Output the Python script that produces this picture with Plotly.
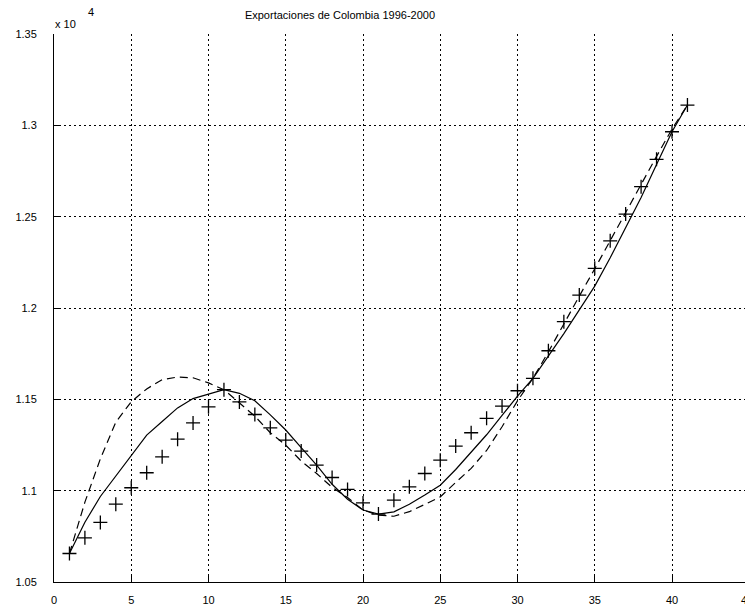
import plotly.graph_objects as go

# Data (values in units, axis shown in x 10^4)
months = list(range(1, 42))
exports = [10656, 10742, 10826, 10926, 11016, 11098, 11185, 11282, 11371, 11459,
           11553, 11486, 11417, 11344, 11277, 11217, 11140, 11072, 11007, 10933,
           10872, 10948, 11021, 11094, 11167, 11244, 11317, 11396, 11463, 11547,
           11615, 11766, 11925, 12071, 12217, 12368, 12514, 12664, 12814, 12965,
           13111]
fit_solid = [10656, 10827, 10968, 11081, 11194, 11304, 11379, 11453, 11504, 11530,
             11553, 11533, 11492, 11415, 11332, 11236, 11140, 11035, 10953, 10894,
             10872, 10884, 10926, 10976, 11030, 11116, 11210, 11306, 11412, 11518,
             11615, 11735, 11860, 11990, 12120, 12275, 12440, 12605, 12785, 12965,
             13111]
fit_dashed = [10656, 10937, 11174, 11375, 11487, 11557, 11608, 11622, 11618, 11590,
              11553, 11478, 11408, 11317, 11249, 11162, 11094, 11018, 10963, 10894,
              10866, 10860, 10885, 10925, 10966, 11045, 11122, 11220, 11350, 11492,
              11615, 11760, 11915, 12065, 12215, 12370, 12525, 12680, 12830, 12980,
              13111]

x_ticks = [0, 5, 10, 15, 20, 25, 30, 35, 40]
y_ticks = [10500, 11000, 11500, 12000, 12500, 13000, 13500]
y_tick_labels = ["1.05", "1.1", "1.15", "1.2", "1.25", "1.3", "1.35"]
title_text = "Exportaciones de Colombia 1996-2000"

FONT = "Liberation Sans, Arial, sans-serif"

fig = go.Figure()
fig.add_trace(go.Scatter(x=months, y=fit_dashed, mode="lines",
                         line=dict(color="black", width=1.2, dash="8px,5px")))
fig.add_trace(go.Scatter(x=months, y=fit_solid, mode="lines",
                         line=dict(color="black", width=1.2)))
fig.add_trace(go.Scatter(x=months, y=exports, mode="markers",
                         marker=dict(symbol="cross-thin", size=10,
                                     line=dict(color="black", width=1.3))))

axis_common = dict(
    showgrid=True, gridcolor="black", gridwidth=1, griddash="2px,3px",
    showline=True, linecolor="black", linewidth=1,
    ticks="inside", ticklen=7, tickcolor="black", tickwidth=1,
    zeroline=False, tickfont=dict(family=FONT, size=11, color="black"),
)

fig.update_layout(
    width=745, height=606,
    margin=dict(l=54, r=0, t=34, b=24, pad=0),
    paper_bgcolor="white", plot_bgcolor="white",
    showlegend=False,
    font=dict(family=FONT, color="black"),
    title=dict(text=title_text, x=340 / 745, xanchor="center",
               y=1 - 15.5 / 606, yanchor="middle",
               font=dict(family=FONT, size=11, color="black")),
    xaxis=dict(range=[0, 691 / 15.45], tickvals=x_ticks, ticklabelstandoff=8,
               **axis_common),
    yaxis=dict(range=[10500, 13500], tickvals=y_ticks, ticktext=y_tick_labels,
               ticklabelstandoff=14, **axis_common),
    annotations=[
        dict(text="x 10", xref="paper", yref="paper", x=-0.001, y=1 + 9.5 / 548,
             xanchor="left", yanchor="middle", showarrow=False,
             font=dict(family=FONT, size=11, color="black")),
        dict(text="4", xref="paper", yref="paper", x=36.5 / 691, y=1 + 22.3 / 548,
             xanchor="center", yanchor="middle", showarrow=False,
             font=dict(family=FONT, size=11, color="black")),
        dict(text="45", xref="paper", yref="paper", x=693 / 691, y=-17.5 / 548,
             xanchor="center", yanchor="middle", showarrow=False,
             font=dict(family=FONT, size=11, color="black")),
    ],
)

fig.write_html("out.html")
